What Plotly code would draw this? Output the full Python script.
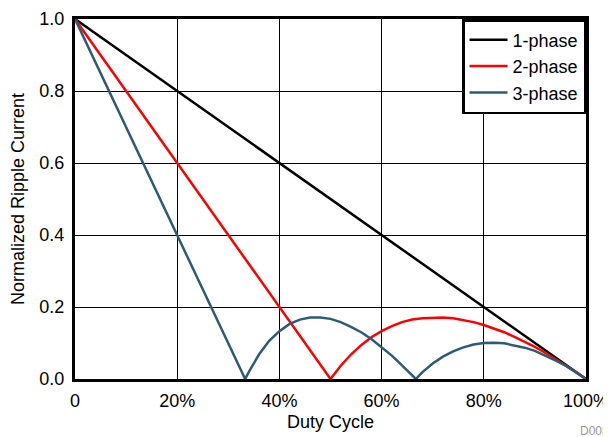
import plotly.graph_objects as go

# Duty cycle (fraction) and normalized ripple current
duty_1 = [0.0, 1.0]
ripple_1 = [1.0, 0.0]

duty_2 = [0.0, 0.50, 0.52, 0.54, 0.56, 0.58, 0.60, 0.62, 0.64, 0.66, 0.68, 0.70,
          0.72, 0.74, 0.76, 0.78, 0.80, 0.82, 0.84, 0.86, 0.88, 0.90, 0.92, 0.94,
          0.96, 0.98, 1.0]
ripple_2 = [1.0, 0.0, 0.037, 0.068, 0.094, 0.116, 0.133, 0.147, 0.158, 0.165, 0.169, 0.171,
            0.171, 0.169, 0.164, 0.158, 0.150, 0.140, 0.130, 0.117, 0.104, 0.089, 0.073, 0.056,
            0.038, 0.020, 0.0]

duty_3 = [0.0, 0.333, 0.34, 0.36, 0.38, 0.40, 0.42, 0.44, 0.46, 0.48, 0.50, 0.52,
          0.54, 0.56, 0.58, 0.60, 0.62, 0.64, 0.66, 0.667, 0.68, 0.70, 0.72, 0.74,
          0.76, 0.78, 0.80, 0.82, 0.84, 0.86, 0.88, 0.90, 0.92, 0.94, 0.96, 0.98, 1.0]
ripple_3 = [1.0, 0.0, 0.019, 0.068, 0.106, 0.133, 0.153, 0.165, 0.171, 0.171, 0.167, 0.158,
            0.145, 0.130, 0.111, 0.089, 0.065, 0.038, 0.010, 0.0, 0.019, 0.043, 0.062, 0.077,
            0.088, 0.096, 0.100, 0.101, 0.099, 0.094, 0.087, 0.078, 0.066, 0.052, 0.037, 0.019, 0.0]

x_tickvals = [0, 0.2, 0.4, 0.6, 0.8, 1.0]
x_ticktext = ["0", "20%", "40%", "60%", "80%", "100%"]
y_tickvals = [0.0, 0.2, 0.4, 0.6, 0.8, 1.0]
y_ticktext = ["0.0", "0.2", "0.4", "0.6", "0.8", "1.0"]

FONT = "Liberation Sans, Arial, sans-serif"

fig = go.Figure()
fig.add_trace(go.Scatter(x=duty_1, y=ripple_1, mode="lines", name="1-phase",
                         line=dict(color="#000000", width=2.5)))
fig.add_trace(go.Scatter(x=duty_2, y=ripple_2, mode="lines", name="2-phase",
                         line=dict(color="#ff0000", width=2.5)))
fig.add_trace(go.Scatter(x=duty_3, y=ripple_3, mode="lines", name="3-phase",
                         line=dict(color="#2f5b72", width=2.5)))

# page body has an 8px margin, so the figure is sized/positioned to compensate
fig.update_layout(
    width=603, height=429,
    margin=dict(l=67, r=25, t=11, b=58, autoexpand=False),
    paper_bgcolor="white", plot_bgcolor="white",
    font=dict(family=FONT, size=18, color="black"),
    showlegend=True,
    legend=dict(x=1, y=1, xanchor="right", yanchor="top",
                bgcolor="white", bordercolor="black", borderwidth=2.5,
                font=dict(family=FONT, size=18, color="black"),
                tracegroupgap=0, itemwidth=38),
    annotations=[dict(text="D008", xref="paper", yref="paper", x=1.0, y=0,
                      xanchor="left", yanchor="top", xshift=-8, yshift=-43,
                      showarrow=False, font=dict(family=FONT, size=12, color="#9a9a9a"))],
)
fig.update_xaxes(range=[0, 1], tickvals=x_tickvals, ticktext=x_ticktext,
                 showgrid=True, gridcolor="black", gridwidth=1,
                 showline=True, linecolor="black", linewidth=3, mirror=True,
                 zeroline=False, ticks="", ticklabelstandoff=3, automargin=False,
                 title=dict(text="Duty Cycle", standoff=6, font=dict(size=18)))
fig.update_yaxes(range=[0, 1], tickvals=y_tickvals, ticktext=y_ticktext,
                 showgrid=True, gridcolor="black", gridwidth=1,
                 showline=True, linecolor="black", linewidth=3, mirror=True,
                 zeroline=False, ticks="", ticklabelstandoff=4, automargin=False,
                 title=dict(text="Normalized Ripple Current", standoff=11, font=dict(size=18)))

fig.write_html("out.html")
